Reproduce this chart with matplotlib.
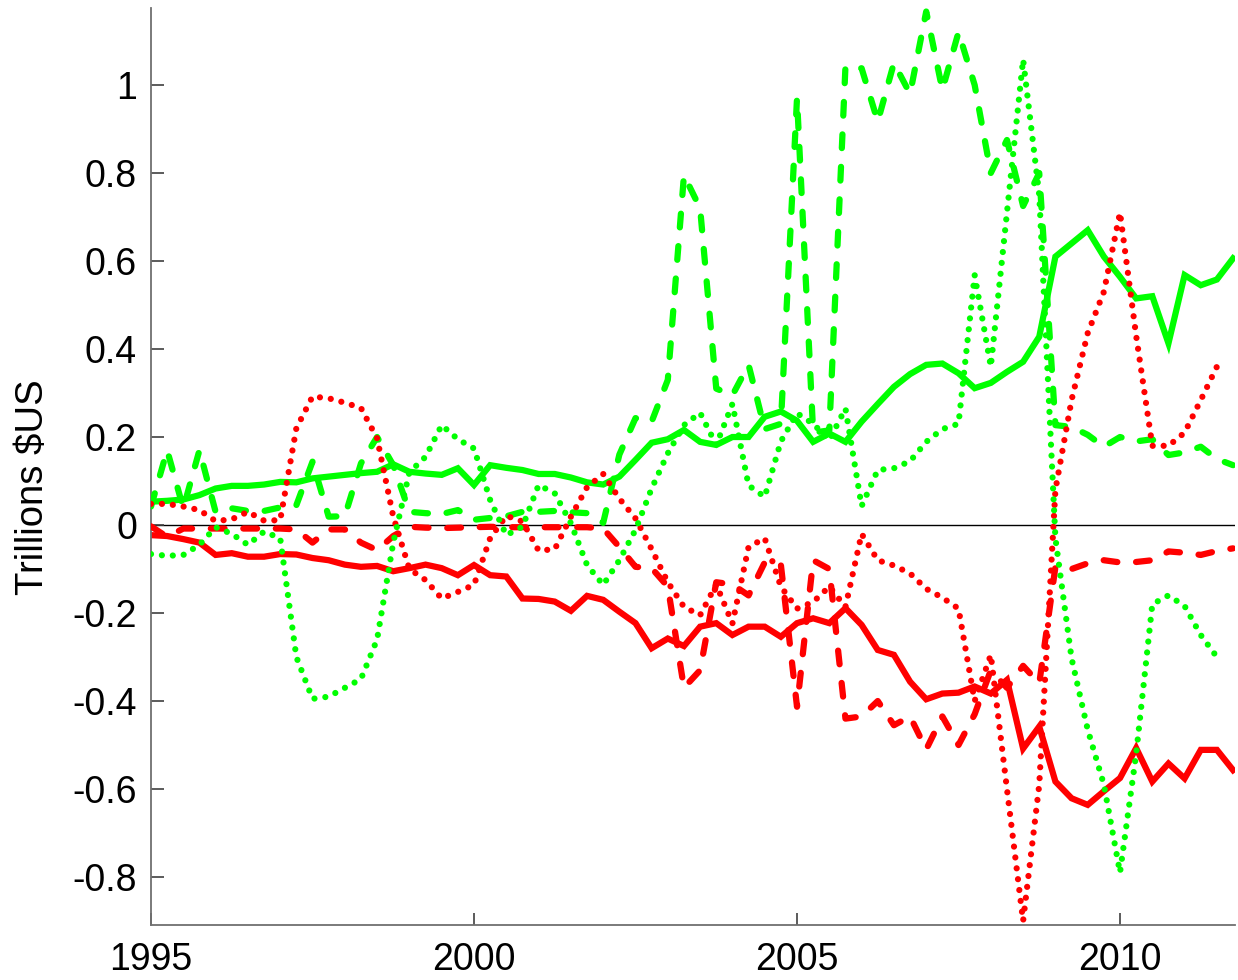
import numpy as np
import matplotlib
matplotlib.use("Agg")
import matplotlib.pyplot as plt

plt.rcParams['font.family'] = ['Liberation Sans', 'DejaVu Sans']

# quarterly time axis
start_year = 1995.0
n_full = 68          # 1995Q1 .. 2011Q4
n_dot = 67           # dotted series end one quarter earlier

# ---- data (trillions of US$) ----
green_solid = [0.053, 0.055, 0.058, 0.068, 0.083, 0.089, 0.089, 0.092, 0.098, 0.097,
               0.106, 0.110, 0.114, 0.118, 0.121, 0.138, 0.121, 0.117, 0.114, 0.129,
               0.091, 0.136, 0.130, 0.125, 0.116, 0.116, 0.108, 0.097, 0.092, 0.110,
               0.148, 0.187, 0.195, 0.216, 0.189, 0.182, 0.200, 0.200, 0.246, 0.258,
               0.237, 0.189, 0.208, 0.189, 0.235, 0.275, 0.314, 0.343, 0.364, 0.367,
               0.345, 0.311, 0.323, 0.348, 0.371, 0.428, 0.610, 0.640, 0.670, 0.610,
               0.564, 0.515, 0.520, 0.413, 0.568, 0.545, 0.558, 0.606]

red_solid = [-0.023, -0.025, -0.032, -0.040, -0.068, -0.064, -0.072, -0.072, -0.066, -0.067,
             -0.075, -0.080, -0.090, -0.095, -0.093, -0.105, -0.098, -0.090, -0.098, -0.114,
             -0.091, -0.114, -0.117, -0.167, -0.168, -0.174, -0.195, -0.161, -0.170, -0.197,
             -0.223, -0.280, -0.258, -0.275, -0.231, -0.223, -0.250, -0.231, -0.231, -0.254,
             -0.223, -0.212, -0.223, -0.189, -0.227, -0.284, -0.295, -0.356, -0.396, -0.383,
             -0.381, -0.367, -0.383, -0.352, -0.508, -0.458, -0.583, -0.621, -0.636, -0.605,
             -0.575, -0.507, -0.583, -0.542, -0.576, -0.511, -0.511, -0.557]

green_dashed = [0.042, 0.170, 0.038, 0.170, 0.030, 0.038, 0.032, 0.032, 0.040, 0.045,
                0.144, 0.019, 0.020, 0.140, 0.200, 0.136, 0.030, 0.027, 0.025, 0.034,
                0.012, 0.016, 0.020, 0.030, 0.030, 0.032, 0.029, 0.027, 0.005, 0.160,
                0.243, 0.235, 0.330, 0.795, 0.720, 0.310, 0.295, 0.364, 0.218, 0.230,
                0.970, 0.210, 0.215, 1.042, 1.038, 0.917, 1.050, 0.980, 1.167, 0.989,
                1.120, 1.000, 0.800, 0.875, 0.725, 0.800, 0.227, 0.223, 0.205, 0.178,
                0.200, 0.190, 0.195, 0.159, 0.165, 0.178, 0.150, 0.136]

red_dashed = [-0.003, -0.027, -0.008, -0.008, -0.008, -0.008, -0.008, -0.008, -0.008, -0.010,
              -0.040, -0.010, -0.010, -0.040, -0.057, -0.025, -0.004, -0.006, -0.007, -0.006,
              -0.005, -0.004, -0.005, -0.005, -0.005, -0.005, -0.005, -0.005, -0.008, -0.050,
              -0.095, -0.098, -0.140, -0.370, -0.330, -0.130, -0.135, -0.160, -0.085, -0.090,
              -0.413, -0.080, -0.100, -0.440, -0.435, -0.400, -0.455, -0.435, -0.510, -0.435,
              -0.500, -0.430, -0.330, -0.370, -0.320, -0.360, -0.095, -0.100, -0.087, -0.080,
              -0.085, -0.084, -0.080, -0.060, -0.063, -0.068, -0.059, -0.053]

red_dotted = [0.048, 0.048, 0.042, 0.034, 0.009, 0.013, 0.030, 0.010, 0.011, 0.220,
              0.292, 0.288, 0.278, 0.266, 0.197, 0.019, -0.100, -0.125, -0.167, -0.152,
              -0.136, -0.030, 0.021, 0.008, -0.058, -0.055, 0.019, 0.086, 0.116, 0.060,
              0.015, -0.055, -0.130, -0.186, -0.205, -0.135, -0.224, -0.050, -0.030, -0.140,
              -0.190, -0.175, -0.140, -0.186, -0.020, -0.080, -0.092, -0.110, -0.145, -0.165,
              -0.190, -0.400, -0.295, -0.600, -0.900, -0.590, 0.080, 0.284, 0.436, 0.530,
              0.710, 0.430, 0.180, 0.180, 0.210, 0.284, 0.360]

green_dotted = [-0.066, -0.070, -0.068, -0.045, -0.005, -0.020, -0.045, -0.015, -0.030, -0.300,
                -0.395, -0.390, -0.370, -0.350, -0.260, -0.040, 0.120, 0.155, 0.227, 0.195,
                0.174, 0.057, -0.023, -0.004, 0.091, 0.072, 0.004, -0.091, -0.136, -0.080,
                -0.011, 0.083, 0.163, 0.227, 0.255, 0.182, 0.275, 0.090, 0.064, 0.190,
                0.254, 0.230, 0.193, 0.265, 0.043, 0.125, 0.129, 0.145, 0.189, 0.218,
                0.230, 0.568, 0.360, 0.710, 1.058, 0.750, -0.030, -0.303, -0.465, -0.590,
                -0.790, -0.520, -0.180, -0.160, -0.184, -0.250, -0.300]

y_ticks = [-0.8, -0.6, -0.4, -0.2, 0, 0.2, 0.4, 0.6, 0.8, 1]
y_tick_labels = ['-0.8', '-0.6', '-0.4', '-0.2', '0', '0.2', '0.4', '0.6', '0.8', '1']
x_ticks = [1995, 2000, 2005, 2010]
x_tick_labels = ['1995', '2000', '2005', '2010']
y_label = 'Trillions $US'

t_full = start_year + 0.25 * np.arange(n_full)
t_dot = start_year + 0.25 * np.arange(n_dot)

GREEN = '#00ff00'
RED = '#ff0000'
LW = 4.5

fig = plt.figure(figsize=(12.38, 9.8), dpi=100)
ax = fig.add_axes([151 / 1238, 1 - 925 / 980, (1235 - 151) / 1238, (925 - 8) / 980])

ax.axhline(0, color='black', lw=1.0, zorder=1)

ax.plot(t_full, red_solid, color=RED, lw=LW, solid_joinstyle='miter', zorder=2)
ax.plot(t_full, green_solid, color=GREEN, lw=LW, solid_joinstyle='miter', zorder=2)

dash_pat = (0, (2.2, 3.0))
ax.plot(t_full, red_dashed, color=RED, lw=LW, linestyle=dash_pat,
        dash_capstyle='round', zorder=3)
ax.plot(t_full, green_dashed, color=GREEN, lw=LW, linestyle=dash_pat,
        dash_capstyle='round', zorder=3)

dot_pat = (0, (0.001, 1.75))
ax.plot(t_dot, red_dotted, color=RED, lw=LW, linestyle=dot_pat,
        dash_capstyle='round', zorder=4)
ax.plot(t_dot, green_dotted, color=GREEN, lw=LW, linestyle=dot_pat,
        dash_capstyle='round', zorder=4)

ax.set_xlim(1995, 2011.78)
ax.set_ylim(-0.909, 1.175)

ax.set_yticks(y_ticks)
ax.set_yticklabels(y_tick_labels)
ax.set_xticks(x_ticks)
ax.set_xticklabels(x_tick_labels)

for s in ['top', 'right']:
    ax.spines[s].set_visible(False)
for s in ['left', 'bottom']:
    ax.spines[s].set_color('#707070')
    ax.spines[s].set_linewidth(1.3)

ax.tick_params(axis='both', direction='in', length=9, width=1.2, color='#404040',
               labelsize=27, labelcolor='black')
ax.tick_params(axis='y', pad=10)
ax.tick_params(axis='x', pad=12)

fig.text(33 / 1238, 1 - 487 / 980, y_label, rotation=90, ha='center', va='center',
         fontsize=27.5, color='black')

fig.savefig('out.png', dpi=100)
